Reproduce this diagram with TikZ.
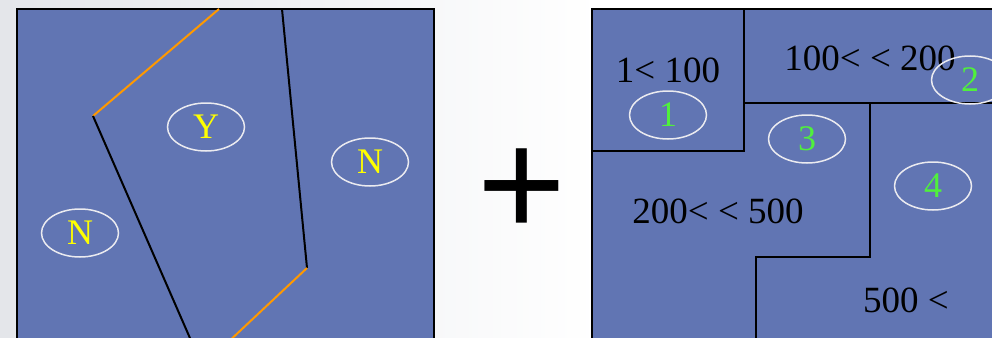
\documentclass[tikz,border=0pt]{standalone}
\usepackage{fontspec}
\setmainfont{Liberation Serif}
\newfontfamily\plusfont{Liberation Sans}
\usetikzlibrary{shapes.geometric}
\definecolor{panel}{RGB}{97,117,179}
\definecolor{bgleft}{RGB}{228,230,234}
\definecolor{ringc}{RGB}{235,235,240}
\definecolor{yel}{RGB}{255,255,0}
\definecolor{grn}{RGB}{80,240,60}
\definecolor{org}{RGB}{255,153,0}
\tikzset{
  panelbox/.style={fill=panel, draw=black, line width=2.2pt},
  ring/.style={ellipse, draw=ringc, line width=1.5pt, minimum width=77pt, minimum height=48pt, inner sep=0pt, font=\fontsize{36}{36}\selectfont},
  yn/.style={ring, text=yel},
  num/.style={ring, text=grn},
  lbl/.style={font=\fontsize{37}{37}\selectfont, text=black, inner sep=0pt},
  bline/.style={draw=black, line width=2pt},
  oline/.style={draw=org, line width=2pt},
}
\begin{document}
\begin{tikzpicture}[x=1pt,y=-1pt]
\useasboundingbox (0,0) rectangle (992,337);
\shade[left color=bgleft, right color=white] (0,0) rectangle (600,337);
\fill[white] (600,0) rectangle (992,337);
% left panel
\draw[panelbox] (17,9) rectangle (434,345);
\coordinate (a) at (219,9);
\coordinate (b) at (93,116);
\coordinate (c) at (193,345);
\coordinate (d) at (282,9);
\coordinate (e) at (307,268);
\coordinate (f) at (225,345);
\draw[oline] (a) -- (b);
\draw[bline] (b) -- (c);
\draw[bline] (d) -- (e);
\draw[oline] (e) -- (f);
\node[yn] (y) at (206,127) {Y};
\node[yn] (n1) at (370,162) {N};
\node[yn] (n2) at (80,233) {N};
% plus
\node[inner sep=0pt, font=\plusfont\fontsize{152}{152}\selectfont] (plus) at (522,193) {+};
% right panel
\draw[panelbox] (592,9) rectangle (1000,345);
\coordinate (p1) at (592,151);
\coordinate (p2) at (744,151);
\coordinate (p3) at (744,9);
\coordinate (p4) at (744,103);
\coordinate (p5) at (1000,103);
\coordinate (p6) at (870,103);
\coordinate (p7) at (870,257);
\coordinate (p8) at (756,257);
\coordinate (p9) at (756,345);
\draw[bline] (p1) -- (p2) -- (p3);
\draw[bline] (p4) -- (p5);
\draw[bline] (p6) -- (p7) -- (p8) -- (p9);
\node[lbl] (t1) at (668,70) {1< 100};
\node[lbl] (t2) at (870,58) {100< < 200};
\node[lbl] (t3) at (718,211) {200< < 500};
\node[lbl] (t4) at (906,300) {500 <};
\node[num] (c1) at (668,115) {1};
\node[num] (c2) at (970,80) {2};
\node[num] (c3) at (807,139) {3};
\node[num] (c4) at (933,186) {4};
\end{tikzpicture}
\end{document}
